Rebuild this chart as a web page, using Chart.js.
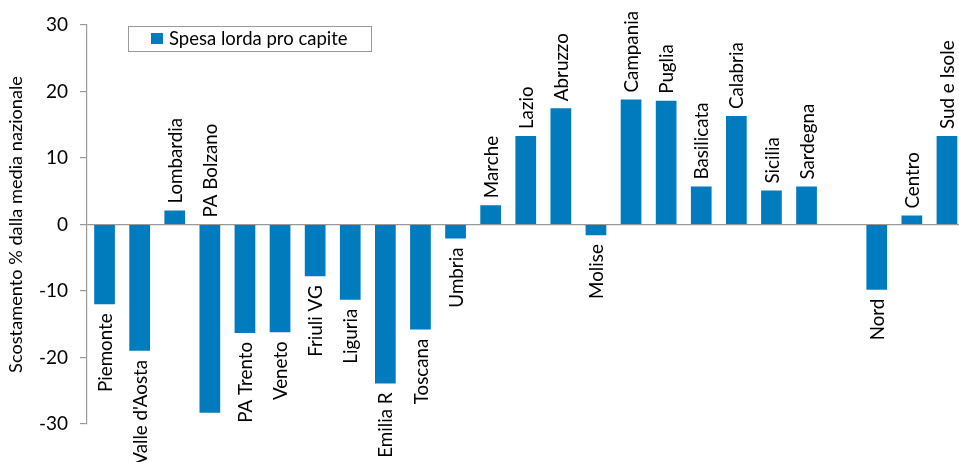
<!DOCTYPE html>
<html><head><meta charset="utf-8">
<script src="https://cdn.jsdelivr.net/npm/chart.js@4/dist/chart.umd.min.js"></script>
<style>html,body{margin:0;padding:0;overflow:hidden;background:#fff}</style>
</head><body>
<canvas id="c" width="966" height="462" style="display:block;width:966px;height:462px"></canvas>
<script>
const categories = ['Piemonte', "Valle d'Aosta", 'Lombardia', 'PA Bolzano', 'PA Trento', 'Veneto', 'Friuli VG', 'Liguria', 'Emilia R', 'Toscana', 'Umbria', 'Marche', 'Lazio', 'Abruzzo', 'Molise', 'Campania', 'Puglia', 'Basilicata', 'Calabria', 'Sicilia', 'Sardegna', '', 'Nord', 'Centro', 'Sud e Isole'];
const values = [-12.0, -19.0, 2.1, -28.3, -16.3, -16.2, -7.8, -11.3, -23.9, -15.8, -2.1, 2.9, 13.3, 17.5, -1.6, 18.8, 18.6, 5.7, 16.3, 5.1, 5.7, null, -9.8, 1.35, 13.3];
const seriesName = 'Spesa lorda pro capite';
const yTicks = [-30, -20, -10, 0, 10, 20, 30];
const yTitle = 'Scostamento % dalla media nazionale';

const FONT = 'Lato';
const BLUE = '#007BBD';
const GRAY = '#999999';

const barLabels = {
  id: 'barLabels',
  afterDatasetsDraw(chart) {
    const ctx = chart.ctx;
    const meta = chart.getDatasetMeta(0);
    const y0 = chart.scales.y.getPixelForValue(0);
    ctx.save();
    ctx.font = '18.8px ' + FONT;
    ctx.fillStyle = '#000';
    ctx.textBaseline = 'middle';
    meta.data.forEach((bar, i) => {
      const v = values[i];
      const txt = categories[i];
      if (v === null || !txt) return;
      const w = ctx.measureText(txt).width;
      ctx.save();
      if (v >= 0) {
        ctx.translate(bar.x, bar.y - 7);
        ctx.rotate(-Math.PI / 2);
        ctx.textAlign = 'left';
      } else if (bar.y + 9 + w > chart.height + 20) {
        ctx.translate(bar.x, y0 - 7);
        ctx.rotate(-Math.PI / 2);
        ctx.textAlign = 'left';
      } else {
        ctx.translate(bar.x, bar.y + 9);
        ctx.rotate(-Math.PI / 2);
        ctx.textAlign = 'right';
      }
      ctx.fillText(txt, 0, 1);
      ctx.restore();
    });
    ctx.restore();
  }
};

const boxLegend = {
  id: 'boxLegend',
  afterDraw(chart) {
    const ctx = chart.ctx;
    ctx.save();
    ctx.fillStyle = '#fff';
    ctx.fillRect(128, 26, 243, 25);
    ctx.strokeStyle = GRAY;
    ctx.lineWidth = 1;
    ctx.strokeRect(128.5, 26.5, 243, 25);
    ctx.fillStyle = BLUE;
    ctx.fillRect(151, 33, 12, 11);
    ctx.fillStyle = '#000';
    ctx.font = '18.5px ' + FONT;
    ctx.textBaseline = 'middle';
    ctx.textAlign = 'left';
    ctx.fillText(chart.data.datasets[0].label, 169, 39);
    ctx.restore();
  }
};

new Chart(document.getElementById('c'), {
  type: 'bar',
  data: {
    labels: categories,
    datasets: [{
      label: seriesName,
      data: values,
      backgroundColor: BLUE,
      borderWidth: 0,
      categoryPercentage: 1,
      barPercentage: 0.59
    }]
  },
  options: {
    responsive: false,
    animation: false,
    devicePixelRatio: 1,
    layout: { padding: { top: 25, bottom: 38, left: 0, right: 1.5 } },
    plugins: { legend: { display: false }, tooltip: { enabled: false } },
    scales: {
      x: { display: false },
      y: {
        min: -30, max: 30,
        afterBuildTicks(s) { s.ticks = yTicks.map(v => ({ value: v })); },
        afterFit(s) { s.width = 87; },
        ticks: { color: '#000', font: { family: FONT, size: 19 }, padding: 12 },
        grid: {
          color: c => (c.tick && c.tick.value === 0) ? GRAY : 'rgba(0,0,0,0)',
          tickColor: GRAY, tickLength: 7, lineWidth: 1.2
        },
        border: { color: GRAY, width: 1.2 },
        title: { display: true, text: yTitle, color: '#000', font: { family: FONT, size: 18.2 }, padding: { top: 5, bottom: 0 } }
      }
    }
  },
  plugins: [barLabels, boxLegend]
});
</script>
</body></html>
